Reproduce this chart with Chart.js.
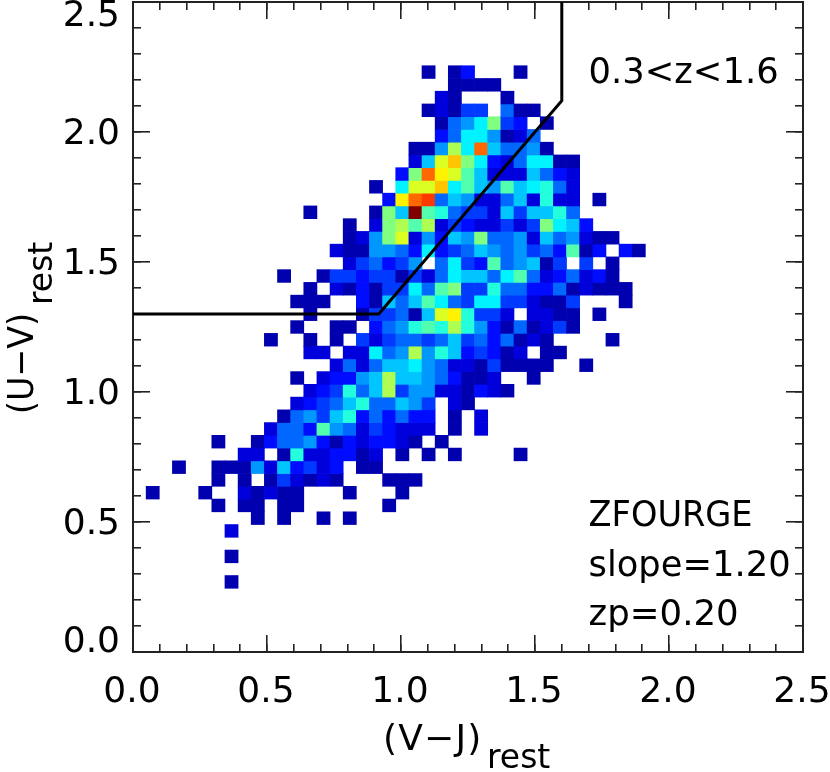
<!DOCTYPE html>
<html>
<head>
<meta charset="utf-8">
<title>UVJ diagram</title>
<script src="https://cdn.jsdelivr.net/npm/chart.js@4"></script>
<style>
  html, body { margin: 0; padding: 0; background: #fff; }
  canvas { display: block; }
</style>
</head>
<body>
<canvas id="uvj" width="830" height="772"></canvas>
<script>
// 2d histogram, 51 x 51 bins over 0..2.5 on both axes
const binCount = 51;
const axisMax = 2.5;
const maxCount = 22;

// row number (from the bottom), first filled column, counts from that column on
const rowIndex = [45, 44, 43, 42, 41, 40, 39, 38, 37, 36, 35, 34, 33, 32, 31, 30, 29, 28, 27, 26, 25, 24, 23, 22, 21, 20, 19, 18, 17, 16, 15, 14, 13, 12, 11, 10, 9, 7, 5];
const rowStart = [22, 24, 23, 22, 23, 23, 21, 21, 20, 18, 19, 13, 16, 16, 15, 16, 11, 13, 12, 13, 12, 10, 13, 15, 12, 13, 12, 11, 10, 6, 8, 3, 6, 1, 6, 9, 7, 7, 7];
const rowCounts = [
  [1, 0, 1, 3, 0, 0, 0, 1],
  [1, 1, 1, 1],
  [2, 1, 0, 0, 0, 1],
  [1, 2, 1, 4, 4, 0, 5, 1, 1],
  [1, 5, 6, 8, 11, 4, 3, 0, 1],
  [3, 5, 8, 8, 6, 1, 2, 5],
  [1, 1, 6, 12, 8, 17, 7, 5, 5, 6, 1],
  [2, 7, 13, 15, 11, 8, 3, 2, 5, 8, 8, 1, 1],
  [3, 11, 17, 14, 13, 10, 7, 2, 2, 2, 7, 5, 3, 2],
  [1, 0, 8, 13, 13, 15, 8, 10, 7, 6, 10, 7, 8, 9, 5, 2],
  [3, 14, 17, 18, 5, 7, 6, 2, 2, 5, 7, 2, 9, 2, 2, 0, 1],
  [1, 0, 0, 0, 0, 1, 11, 7, 22, 10, 9, 5, 4, 4, 2, 7, 4, 7, 7, 9, 5],
  [1, 0, 2, 11, 12, 10, 12, 2, 4, 3, 2, 2, 4, 2, 4, 11, 8, 7, 3],
  [1, 2, 6, 11, 13, 2, 6, 3, 7, 6, 11, 5, 5, 6, 2, 7, 5, 6, 2, 1, 1],
  [2, 1, 1, 6, 6, 5, 3, 8, 3, 4, 5, 7, 6, 5, 6, 4, 5, 3, 10, 1, 3, 0, 3, 1],
  [2, 4, 5, 3, 4, 6, 0, 5, 8, 4, 3, 10, 5, 6, 7, 1, 4, 0, 4, 0, 1],
  [1, 0, 0, 1, 4, 4, 3, 4, 4, 1, 4, 2, 5, 8, 7, 7, 5, 8, 10, 5, 2, 3, 5, 2, 3, 1],
  [1, 0, 2, 1, 3, 1, 4, 4, 8, 5, 10, 11, 4, 4, 9, 5, 5, 3, 3, 5, 1, 2, 1, 1, 1],
  [1, 1, 1, 0, 0, 3, 1, 7, 5, 7, 10, 8, 5, 4, 8, 8, 4, 4, 2, 1, 1, 4, 0, 0, 0, 1],
  [1, 0, 0, 0, 1, 4, 4, 5, 1, 7, 13, 14, 9, 4, 4, 2, 0, 2, 2, 1, 1, 0, 1],
  [1, 0, 0, 1, 1, 0, 3, 5, 6, 9, 10, 9, 12, 9, 6, 3, 1, 5, 1, 2, 4, 1],
  [1, 0, 0, 1, 0, 1, 0, 4, 2, 4, 5, 5, 4, 5, 7, 4, 5, 3, 5, 1, 2, 1, 0, 0, 0, 0, 1],
  [2, 2, 0, 2, 2, 8, 5, 6, 12, 6, 9, 7, 3, 4, 3, 1, 2, 0, 1, 1],
  [2, 5, 2, 5, 7, 7, 8, 6, 5, 2, 2, 1, 4, 1, 1, 1, 1, 0, 0, 1],
  [1, 0, 2, 3, 3, 6, 7, 12, 7, 7, 6, 5, 3, 1, 1, 2, 0, 0, 1],
  [2, 3, 4, 9, 5, 7, 12, 4, 6, 6, 2, 2, 1, 3, 2, 1],
  [2, 3, 4, 5, 7, 9, 5, 5, 7, 6, 4, 0, 2, 1],
  [1, 5, 6, 4, 7, 9, 3, 5, 3, 5, 3, 3, 0, 1, 0, 2],
  [2, 5, 5, 3, 10, 6, 5, 2, 4, 3, 2, 2, 2, 0, 1, 0, 2],
  [1, 0, 0, 1, 3, 5, 5, 6, 3, 1, 3, 2, 3, 3, 2, 1, 0, 1],
  [2, 2, 0, 1, 9, 2, 2, 3, 3, 1, 2, 0, 1, 0, 1, 0, 1, 0, 0, 0, 0, 1],
  [1, 0, 0, 1, 1, 1, 6, 2, 7, 3, 4, 2, 3, 0, 1, 1],
  [1, 0, 1, 0, 1, 4, 2, 1, 2, 1, 0, 0, 0, 1, 1, 1],
  [1, 0, 0, 0, 1, 0, 0, 2, 1, 2, 1, 1, 0, 0, 0, 1, 0, 0, 0, 1],
  [1, 0, 1, 1, 0, 1, 1, 0, 0, 0, 0, 0, 0, 1],
  [1, 0, 1, 0, 0, 1, 0, 1],
  [2],
  [1],
  [1]
];

// selection box
const cutX = [0, 0.917, 1.6, 1.6];
const cutY = [1.3, 1.3, 2.12, 2.5];

const noteLabels = ['0.3<z<1.6', 'ZFOURGE', 'slope=1.20', 'zp=0.20'];
const noteX = [1.7, 1.7, 1.7, 1.7];
const noteY = [2.19, 0.485, 0.292, 0.104];
const noteWidth = [190, 164, 202, 150];

const font = '"DejaVu Sans"';
const binWidth = axisMax / binCount;
const binLabels = [];
for (let i = 0; i < binCount; i++) binLabels.push(i);

// blue to red rainbow, count 0 is left white
function jet(v) {
  const f = v / maxCount;
  const ch = c => Math.round(255 * Math.max(0, Math.min(1, c)));
  const r = ch(Math.min(4 * f - 1.5, 4.5 - 4 * f));
  const g = ch(Math.min(4 * f - 0.5, 3.5 - 4 * f));
  const b = ch(Math.min(4 * f + 0.5, 2.5 - 4 * f));
  return 'rgb(' + r + ',' + g + ',' + b + ')';
}

// every row of the histogram is one dataset of floating bars
const datasets = rowIndex.map((row, n) => {
  const data = new Array(binCount).fill(null);
  const colors = new Array(binCount).fill('rgba(0,0,0,0)');
  rowCounts[n].forEach((count, k) => {
    if (count > 0) {
      data[rowStart[n] + k] = [row * binWidth, (row + 1) * binWidth];
      colors[rowStart[n] + k] = jet(count);
    }
  });
  return {
    type: 'bar', data: data, backgroundColor: colors, borderWidth: 0,
    xAxisID: 'xCell', yAxisID: 'yLeft', grouped: false, order: 2,
    categoryPercentage: 1, barPercentage: 1
  };
});

datasets.push({
  type: 'scatter',
  data: cutX.map((x, i) => ({ x: x, y: cutY[i] })),
  xAxisID: 'xBottom', yAxisID: 'yLeft', showLine: true, order: 0,
  borderColor: '#000', borderWidth: 3, pointRadius: 0, tension: 0
});

// inward ticks need one linear axis per tick length
function tickAxis(position, step, length, size, labelled, padding, labelOffset) {
  return {
    type: 'linear', position: position, min: 0, max: axisMax,
    weight: labelled ? 1 : 0,
    afterFit: scale => {
      if (scale.isHorizontal()) scale.height = size; else scale.width = size;
      scale.paddingLeft = scale.paddingRight = scale.paddingTop = scale.paddingBottom = 0;
    },
    border: { display: true, color: '#222', width: 2 },
    grid: { drawOnChartArea: false, drawTicks: true, tickLength: -length, color: '#222', lineWidth: 1.6 },
    ticks: {
      display: labelled, stepSize: step, autoSkip: false, maxRotation: 0, minRotation: 0,
      labelOffset: labelOffset || 0,
      color: '#000', padding: padding, font: { family: font, size: 36, lineHeight: 0.667 },
      callback: v => {
        const text = Number(v).toFixed(1);
        if (position !== 'left') return text;
        // the two end labels sit inside the frame
        if (v === 0) return [text, ''];
        if (v === axisMax) return ['', text];
        return text;
      }
    }
  };
}

const textPlugin = {
  id: 'chartText',
  afterDraw(chart) {
    const ctx = chart.ctx;
    const x = chart.scales.xBottom;
    const y = chart.scales.yLeft;
    ctx.save();
    ctx.fillStyle = '#000';
    ctx.textBaseline = 'alphabetic';
    ctx.textAlign = 'left';
    ctx.font = '36px ' + font;
    noteLabels.forEach((t, i) => {
      ctx.fillText(t, x.getPixelForValue(noteX[i]), y.getPixelForValue(noteY[i]), noteWidth[i]);
    });
    // axis titles with a subscript
    ctx.letterSpacing = '1.2px';
    ctx.fillText('(V\u2212J)', 383, 750);
    ctx.letterSpacing = '0px';
    ctx.font = '33px ' + font;
    ctx.fillText('rest', 487, 768);
    ctx.translate(33, 414);
    ctx.rotate(-Math.PI / 2);
    ctx.font = '36px ' + font;
    ctx.fillText('(U\u2212V)', 0, 0, 101);
    ctx.font = '33px ' + font;
    ctx.fillText('rest', 109, 19);
    ctx.restore();
  }
};

new Chart(document.getElementById('uvj'), {
  data: { labels: binLabels, datasets: datasets },
  plugins: [textPlugin],
  options: {
    responsive: false,
    animation: false,
    layout: { padding: { top: 2, right: 27, left: 0, bottom: 0 } },
    plugins: { legend: { display: false }, tooltip: { enabled: false } },
    scales: {
      xCell: { type: 'category', display: false, offset: true },
      xBottom: tickAxis('bottom', 0.5, 17, 120, true, 46, -1),
      xBottomMinor: tickAxis('bottom', 0.1, 8, 0, false, 0),
      xTop: tickAxis('top', 0.5, 17, 0, false, 0),
      xTopMinor: tickAxis('top', 0.1, 8, 0, false, 0),
      yLeft: tickAxis('left', 0.5, 17, 133, true, 30, 2.5),
      yLeftMinor: tickAxis('left', 0.1, 8, 0, false, 0),
      yRight: tickAxis('right', 0.5, 17, 0, false, 0),
      yRightMinor: tickAxis('right', 0.1, 8, 0, false, 0)
    }
  }
});
</script>
</body>
</html>
